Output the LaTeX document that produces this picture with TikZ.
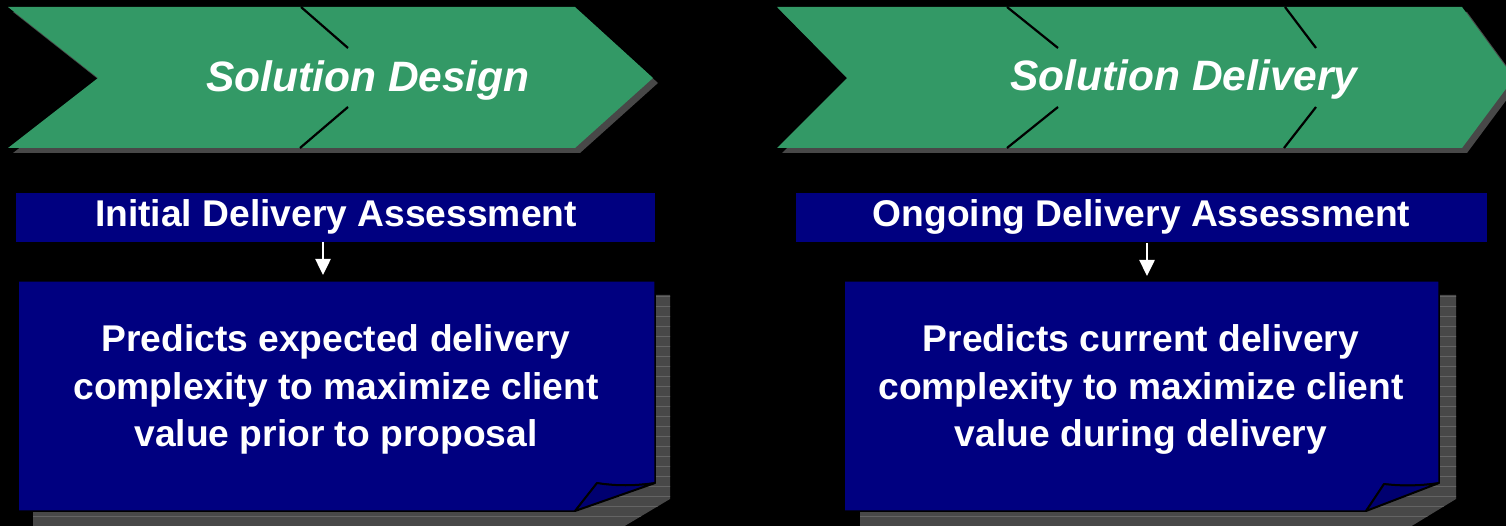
\documentclass[tikz,border=0pt]{standalone}
\usepackage{fontspec}
\setmainfont{Liberation Sans}
\usetikzlibrary{arrows.meta,patterns.meta}
\definecolor{chevgreen}{RGB}{51,153,102}
\definecolor{boxnavy}{RGB}{0,0,128}
\definecolor{flapnavy}{RGB}{0,0,112}
\definecolor{shadowgray}{RGB}{72,72,72}
\definecolor{stripegray}{RGB}{100,100,100}
\tikzset{
  chev/.style={fill=chevgreen, draw=none},
  chevshadow/.style={fill=shadowgray, draw=none},
  divline/.style={draw=black, line width=2.2pt},
  hdrbar/.style={fill=boxnavy, draw=none, inner sep=0pt},
  bigfont/.style={font=\fontsize{42.5}{50}\selectfont\bfseries\itshape, text=white, inner sep=0pt, anchor=base},
  hdrtext/.style={font=\fontsize{37.2}{44}\selectfont\bfseries, text=white, inner sep=0pt, anchor=base},
  bodytext/.style={font=\fontsize{37.2}{44}\selectfont\bfseries, text=white, inner sep=0pt, anchor=base},
  pagebox/.style={fill=boxnavy, draw=black, line width=1.5pt, line join=round},
  pageflap/.style={fill=flapnavy, draw=black, line width=2pt, line join=round},
  pageshadow/.style={preaction={fill=shadowgray}, pattern={Lines[angle=0,distance=10pt,line width=0.8pt]}, pattern color=stripegray, draw=none},
  downarrow/.style={draw=white, line width=2.5pt, -{Triangle[width=15pt,length=16pt]}},
}
\begin{document}
\begin{tikzpicture}[x=1pt,y=-1pt]
\clip (0,0) rectangle (1506,526);
\fill[black] (0,0) rectangle (1506,526);

% ---------- left chevron ----------
\fill[chevshadow] (13,12) -- (580,12) -- (658,83) -- (580,153) -- (13,153) -- (103,83) -- cycle;
\fill[chev] (8,7) -- (575,7) -- (653,78) -- (575,148) -- (8,148) -- (98,78) -- cycle;
\coordinate (d1a) at (301,7);   \coordinate (d1b) at (348,48);
\coordinate (d1c) at (300,148); \coordinate (d1d) at (348,107);
\draw[divline] (d1a) -- (d1b);
\draw[divline] (d1c) -- (d1d);
\node[bigfont] (t1) at (368,92) {Solution Design};

% ---------- right chevron ----------
\fill[chevshadow] (782,12) -- (1467,12) -- (1519,83) -- (1467,153) -- (782,153) -- (852,83) -- cycle;
\fill[chev] (777,7) -- (1462,7) -- (1514,78) -- (1462,148) -- (777,148) -- (847,78) -- cycle;
\coordinate (d2a) at (1007,7);  \coordinate (d2b) at (1058,48);
\coordinate (d2c) at (1007,148);\coordinate (d2d) at (1058,107);
\coordinate (d3a) at (1285,7);  \coordinate (d3b) at (1316,48);
\coordinate (d3c) at (1284,148);\coordinate (d3d) at (1316,107);
\draw[divline] (d2a) -- (d2b);
\draw[divline] (d2c) -- (d2d);
\draw[divline] (d3a) -- (d3b);
\draw[divline] (d3c) -- (d3d);
\node[bigfont] (t2) at (1184,91) {Solution Delivery};

% ---------- header bars ----------
\node[hdrbar, minimum width=639pt, minimum height=49pt] (h1) at (335.5,217.5) {};
\node[hdrtext] (h1t) at (336,227) {Initial Delivery Assessment};
\node[hdrbar, minimum width=691pt, minimum height=49pt] (h2) at (1141.5,217.5) {};
\node[hdrtext] (h2t) at (1141.5,227) {Ongoing Delivery Assessment};

% ---------- arrows ----------
\coordinate (a1s) at (323,242); \coordinate (a1e) at (323,275);
\coordinate (a2s) at (1147,243); \coordinate (a2e) at (1147,276);
\draw[downarrow] (a1s) -- (a1e);
\draw[downarrow] (a2s) -- (a2e);

% ---------- left page box ----------
\fill[pageshadow] (33,295) -- (670,295) -- (670,499) -- (623,527) -- (33,527) -- cycle;
\draw[pagebox] (18,281) -- (655,281) -- (655,483) .. controls (635,486) and (615,486) .. (597,483) -- (575,511) -- (18,511) -- cycle;
\draw[pageflap] (597,483) .. controls (615,486) and (635,486) .. (655,483) -- (575,511) -- cycle;
\node[bodytext] (b1l1) at (336,351) {Predicts expected delivery};
\node[bodytext] (b1l2) at (336,399) {complexity to maximize client};
\node[bodytext] (b1l3) at (336,446) {value prior to proposal};

% ---------- right page box ----------
\fill[pageshadow] (860,295) -- (1456,295) -- (1456,499) -- (1410,527) -- (860,527) -- cycle;
\draw[pagebox] (844,281) -- (1439,281) -- (1439,483) .. controls (1420,486) and (1400,486) .. (1384,484) -- (1366,511) -- (844,511) -- cycle;
\draw[pageflap] (1384,484) .. controls (1400,486) and (1420,486) .. (1439,483) -- (1366,511) -- cycle;
\node[bodytext] (b2l1) at (1141,351) {Predicts current delivery};
\node[bodytext] (b2l2) at (1141,399) {complexity to maximize client};
\node[bodytext] (b2l3) at (1141,446) {value during delivery};
\end{tikzpicture}
\end{document}
